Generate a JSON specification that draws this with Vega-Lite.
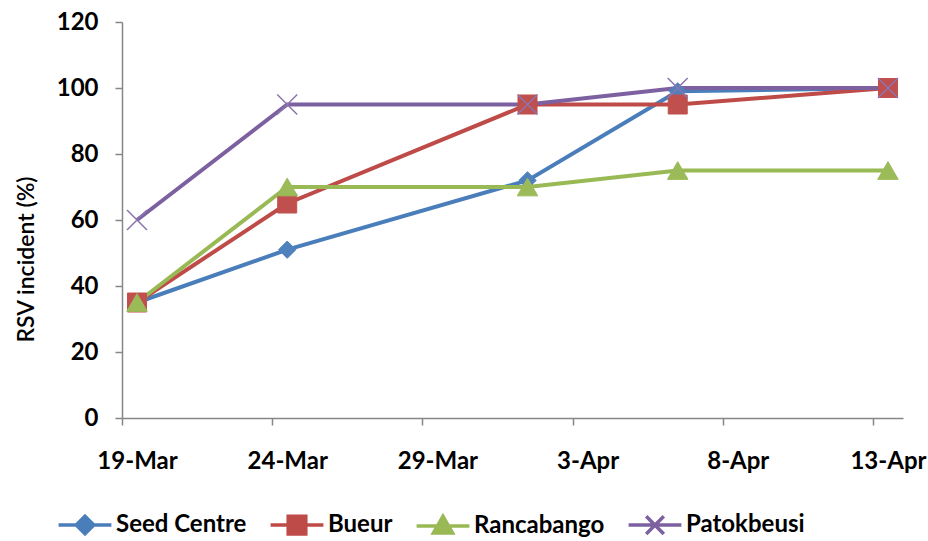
{
  "$schema": "https://vega.github.io/schema/vega-lite/v6.json",
  "width": 781,
  "height": 396,
  "autosize": {"type": "none"},
  "padding": {"left": 122, "top": 22, "right": 25, "bottom": 123},
  "background": "white",
  "config": {"view": {"stroke": null}, "font": "Lato"},
  "data": {
    "values": [
      {"series": "Seed Centre", "date": "2013-03-19", "value": 35},
      {"series": "Seed Centre", "date": "2013-03-24", "value": 51},
      {"series": "Seed Centre", "date": "2013-04-01", "value": 72},
      {"series": "Seed Centre", "date": "2013-04-06", "value": 99},
      {"series": "Seed Centre", "date": "2013-04-13", "value": 100},
      {"series": "Bueur", "date": "2013-03-19", "value": 35},
      {"series": "Bueur", "date": "2013-03-24", "value": 65},
      {"series": "Bueur", "date": "2013-04-01", "value": 95},
      {"series": "Bueur", "date": "2013-04-06", "value": 95},
      {"series": "Bueur", "date": "2013-04-13", "value": 100},
      {"series": "Rancabango", "date": "2013-03-19", "value": 35},
      {"series": "Rancabango", "date": "2013-03-24", "value": 70},
      {"series": "Rancabango", "date": "2013-04-01", "value": 70},
      {"series": "Rancabango", "date": "2013-04-06", "value": 75},
      {"series": "Rancabango", "date": "2013-04-13", "value": 75},
      {"series": "Patokbeusi", "date": "2013-03-19", "value": 60},
      {"series": "Patokbeusi", "date": "2013-03-24", "value": 95},
      {"series": "Patokbeusi", "date": "2013-04-01", "value": 95},
      {"series": "Patokbeusi", "date": "2013-04-06", "value": 100},
      {"series": "Patokbeusi", "date": "2013-04-13", "value": 100}
    ]
  },
  "encoding": {
    "x": {
      "field": "date",
      "type": "temporal",
      "timeUnit": "utcyearmonthdate",
      "bandPosition": 0.5,
      "scale": {
        "type": "utc",
        "domain": [
          {"year": 2013, "month": "mar", "date": 19, "utc": true},
          {"year": 2013, "month": "apr", "date": 14, "utc": true}
        ]
      },
      "axis": {
        "title": null,
        "values": [
          {"year": 2013, "month": "mar", "date": 19, "utc": true},
          {"year": 2013, "month": "mar", "date": 24, "utc": true},
          {"year": 2013, "month": "mar", "date": 29, "utc": true},
          {"year": 2013, "month": "apr", "date": 3, "utc": true},
          {"year": 2013, "month": "apr", "date": 8, "utc": true},
          {"year": 2013, "month": "apr", "date": 13, "utc": true}
        ],
        "labelExpr": "utcFormat(datum.value, '%-d-%b')",
        "labelOffset": 15,
        "grid": false,
        "domainColor": "#868686",
        "domainWidth": 1.5,
        "tickColor": "#868686",
        "tickWidth": 1.5,
        "tickSize": 7,
        "labelPadding": 24,
        "labelFont": "Lato",
        "labelFontSize": 24,
        "labelFontWeight": "bold",
        "labelColor": "black",
        "labelFlush": false,
        "labelOverlap": false
      }
    },
    "y": {
      "field": "value",
      "type": "quantitative",
      "scale": {"domain": [0, 120], "nice": false},
      "axis": {
        "title": "RSV incident (%)",
        "values": [0, 20, 40, 60, 80, 100, 120],
        "grid": false,
        "domainColor": "#868686",
        "domainWidth": 1.5,
        "tickColor": "#868686",
        "tickWidth": 1.5,
        "tickSize": 7,
        "labelPadding": 17,
        "labelFont": "Lato",
        "labelFontSize": 24,
        "labelFontWeight": "bold",
        "labelColor": "black",
        "titleFont": "Lato",
        "titleFontSize": 23,
        "titleFontWeight": 600,
        "titleColor": "black",
        "titlePadding": 18,
        "titleY": 237
      }
    }
  },
  "layer": [
    {
      "mark": {"type": "line", "strokeWidth": 4},
      "encoding": {
        "color": {
          "field": "series",
          "type": "nominal",
          "scale": {
            "domain": ["Seed Centre", "Bueur", "Rancabango", "Patokbeusi"],
            "range": ["#4A7EBB", "#BE4B48", "#98B954", "#7D60A0"]
          },
          "legend": {
            "orient": "none",
            "legendX": -49,
            "legendY": 491,
            "direction": "horizontal",
            "title": null,
            "symbolSize": 256,
            "symbolStrokeWidth": 3.5,
            "labelOffset": 19,
            "columnPadding": 16,
            "labelFont": "Lato",
            "labelFontSize": 24,
            "labelFontWeight": "bold",
            "labelColor": "black",
            "encode": {
              "symbols": {
                "update": {
                  "shape": {"signal": "datum.value === 'Seed Centre' ? 'M-3.3,0L3.3,0M0,-1.1L1.1,0L0,1.1L-1.1,0Z' : datum.value === 'Bueur' ? 'M-3.3,0L3.3,0M-1.1,-1.1H1.1V1.1H-1.1Z' : datum.value === 'Rancabango' ? 'M-3.3,0L3.3,0M0,-1.2L1.2,0.9L-1.2,0.9Z' : 'M-3.3,0L3.3,0M-1.1,-1.1L1.1,1.1M-1.1,1.1L1.1,-1.1'"},
                  "fill": {"signal": "scale('color', datum.value)"},
                  "stroke": {"signal": "scale('color', datum.value)"},
                  "opacity": {"value": 1}
                }
              }
            }
          }
        }
      }
    },
    {
      "transform": [{"filter": "datum.series === 'Seed Centre'"}],
      "mark": {"type": "point", "shape": "diamond", "size": 300, "filled": true, "opacity": 1, "color": "#4F81BD", "stroke": "#4F81BD", "strokeWidth": 1}
    },
    {
      "transform": [{"filter": "datum.series === 'Bueur'"}],
      "mark": {"type": "point", "shape": "square", "size": 361, "filled": true, "opacity": 1, "color": "#C0504D", "stroke": "#C0504D", "strokeWidth": 1}
    },
    {
      "transform": [{"filter": "datum.series === 'Rancabango'"}],
      "mark": {"type": "point", "shape": "triangle-up", "size": 420, "filled": true, "opacity": 1, "color": "#9BBB59", "stroke": "#9BBB59", "strokeWidth": 1}
    },
    {
      "transform": [{"filter": "datum.series === 'Patokbeusi'"}],
      "mark": {"type": "point", "shape": "M-1,-1L1,1M-1,1L1,-1", "size": 400, "filled": false, "opacity": 1, "stroke": "#8C74AE", "strokeWidth": 1.5}
    }
  ]
}
